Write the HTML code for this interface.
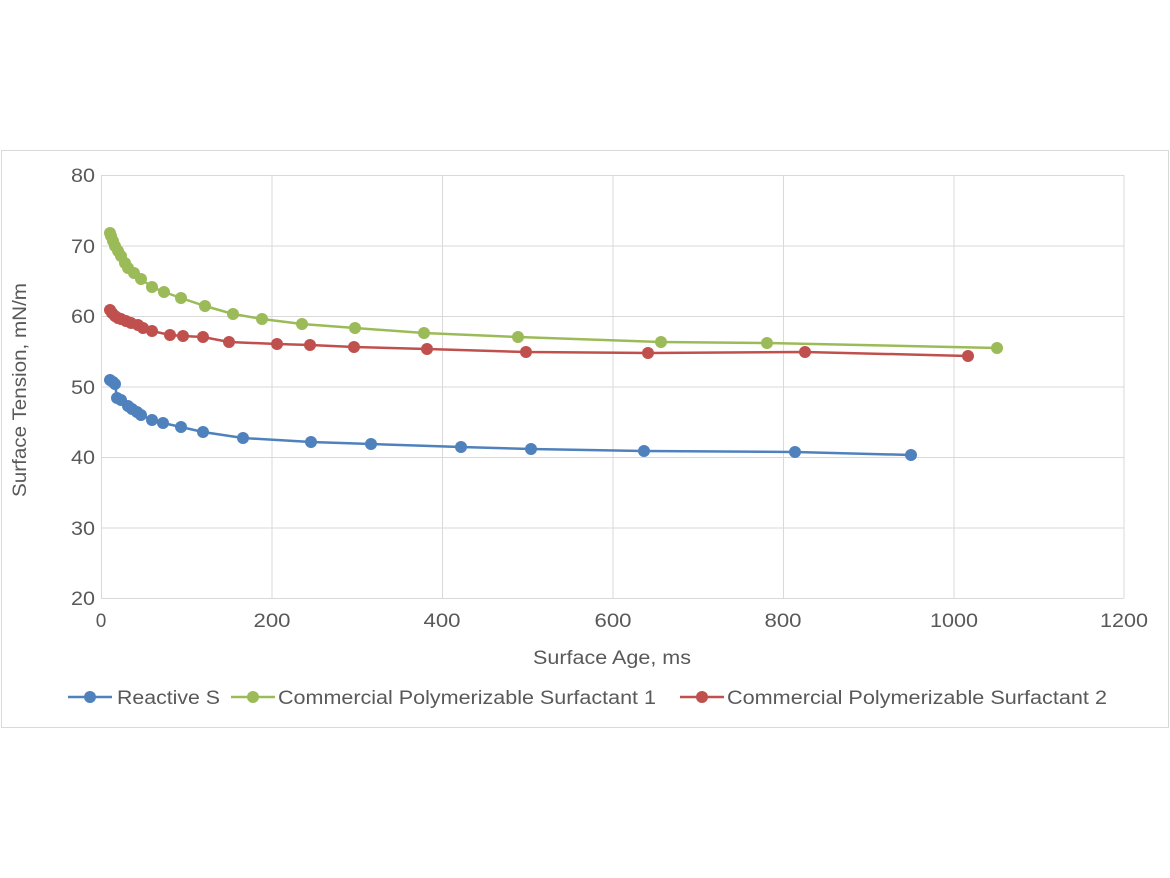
<!DOCTYPE html>
<html><head><meta charset="utf-8"><style>body{margin:0;background:#fff}svg{display:block}</style></head><body>
<svg width="1170" height="878" xmlns="http://www.w3.org/2000/svg" font-family="Liberation Sans, sans-serif" fill="#595959">
<rect x="1.5" y="150.5" width="1167" height="577" fill="#fff" stroke="#d9d9d9"/>
<g stroke="#d9d9d9" stroke-width="1">
<line x1="101" y1="175.5" x2="1124" y2="175.5"/><line x1="101" y1="246" x2="1124" y2="246"/><line x1="101" y1="316.5" x2="1124" y2="316.5"/><line x1="101" y1="387" x2="1124" y2="387"/><line x1="101" y1="457.5" x2="1124" y2="457.5"/><line x1="101" y1="528" x2="1124" y2="528"/><line x1="101" y1="598.5" x2="1124" y2="598.5"/>
<line x1="101.5" y1="175" x2="101.5" y2="598"/><line x1="272" y1="175" x2="272" y2="598"/><line x1="442.5" y1="175" x2="442.5" y2="598"/><line x1="613" y1="175" x2="613" y2="598"/><line x1="783.5" y1="175" x2="783.5" y2="598"/><line x1="954" y1="175" x2="954" y2="598"/><line x1="1124" y1="175" x2="1124" y2="598"/>
</g>
<g font-size="19" text-anchor="end">
<text x="95" y="182" textLength="24" lengthAdjust="spacingAndGlyphs">80</text><text x="95" y="253" textLength="24" lengthAdjust="spacingAndGlyphs">70</text><text x="95" y="323" textLength="24" lengthAdjust="spacingAndGlyphs">60</text><text x="95" y="394" textLength="24" lengthAdjust="spacingAndGlyphs">50</text><text x="95" y="464" textLength="24" lengthAdjust="spacingAndGlyphs">40</text><text x="95" y="535" textLength="24" lengthAdjust="spacingAndGlyphs">30</text><text x="95" y="605" textLength="24" lengthAdjust="spacingAndGlyphs">20</text></g>
<g font-size="19" text-anchor="middle">
<text x="101" y="627">0</text><text x="272" y="627" textLength="37" lengthAdjust="spacingAndGlyphs">200</text><text x="442" y="627" textLength="37" lengthAdjust="spacingAndGlyphs">400</text><text x="613" y="627" textLength="37" lengthAdjust="spacingAndGlyphs">600</text><text x="783" y="627" textLength="37" lengthAdjust="spacingAndGlyphs">800</text><text x="954" y="627" textLength="48" lengthAdjust="spacingAndGlyphs">1000</text><text x="1124" y="627" textLength="48" lengthAdjust="spacingAndGlyphs">1200</text>
<text x="612" y="664" textLength="158" lengthAdjust="spacingAndGlyphs">Surface Age, ms</text>
<text transform="translate(26,390) rotate(-90)" textLength="214" lengthAdjust="spacingAndGlyphs">Surface Tension, mN/m</text></g>
<polyline fill="none" stroke="#9bbb59" stroke-width="2.5" points="110,233 111,236 113,241 115,246 118,251 121,256 125,263 128,268 134,273 141,279 152,287 164,292 181,298 205,306 233,314 262,319 302,324 355,328 424,333 518,337 661,342 767,343 997,348"/>
<g fill="#9bbb59"><circle cx="110" cy="233" r="6"/><circle cx="111" cy="236" r="6"/><circle cx="113" cy="241" r="6"/><circle cx="115" cy="246" r="6"/><circle cx="118" cy="251" r="6"/><circle cx="121" cy="256" r="6"/><circle cx="125" cy="263" r="6"/><circle cx="128" cy="268" r="6"/><circle cx="134" cy="273" r="6"/><circle cx="141" cy="279" r="6"/><circle cx="152" cy="287" r="6"/><circle cx="164" cy="292" r="6"/><circle cx="181" cy="298" r="6"/><circle cx="205" cy="306" r="6"/><circle cx="233" cy="314" r="6"/><circle cx="262" cy="319" r="6"/><circle cx="302" cy="324" r="6"/><circle cx="355" cy="328" r="6"/><circle cx="424" cy="333" r="6"/><circle cx="518" cy="337" r="6"/><circle cx="661" cy="342" r="6"/><circle cx="767" cy="343" r="6"/><circle cx="997" cy="348" r="6"/></g>
<polyline fill="none" stroke="#c0504d" stroke-width="2.5" points="110,310 112,313 115,316 118,318 121,319 126,321 131,323 138,325 143,328 152,331 170,335 183,336 203,337 229,342 277,344 310,345 354,347 427,349 526,352 648,353 805,352 968,356"/>
<g fill="#c0504d"><circle cx="110" cy="310" r="6"/><circle cx="112" cy="313" r="6"/><circle cx="115" cy="316" r="6"/><circle cx="118" cy="318" r="6"/><circle cx="121" cy="319" r="6"/><circle cx="126" cy="321" r="6"/><circle cx="131" cy="323" r="6"/><circle cx="138" cy="325" r="6"/><circle cx="143" cy="328" r="6"/><circle cx="152" cy="331" r="6"/><circle cx="170" cy="335" r="6"/><circle cx="183" cy="336" r="6"/><circle cx="203" cy="337" r="6"/><circle cx="229" cy="342" r="6"/><circle cx="277" cy="344" r="6"/><circle cx="310" cy="345" r="6"/><circle cx="354" cy="347" r="6"/><circle cx="427" cy="349" r="6"/><circle cx="526" cy="352" r="6"/><circle cx="648" cy="353" r="6"/><circle cx="805" cy="352" r="6"/><circle cx="968" cy="356" r="6"/></g>
<polyline fill="none" stroke="#4f81bd" stroke-width="2.5" points="110,380 113,382 115,384 117,398 121,400 128,406 132,409 137,412 141,415 152,420 163,423 181,427 203,432 243,438 311,442 371,444 461,447 531,449 644,451 795,452 911,455"/>
<g fill="#4f81bd"><circle cx="110" cy="380" r="6"/><circle cx="113" cy="382" r="6"/><circle cx="115" cy="384" r="6"/><circle cx="117" cy="398" r="6"/><circle cx="121" cy="400" r="6"/><circle cx="128" cy="406" r="6"/><circle cx="132" cy="409" r="6"/><circle cx="137" cy="412" r="6"/><circle cx="141" cy="415" r="6"/><circle cx="152" cy="420" r="6"/><circle cx="163" cy="423" r="6"/><circle cx="181" cy="427" r="6"/><circle cx="203" cy="432" r="6"/><circle cx="243" cy="438" r="6"/><circle cx="311" cy="442" r="6"/><circle cx="371" cy="444" r="6"/><circle cx="461" cy="447" r="6"/><circle cx="531" cy="449" r="6"/><circle cx="644" cy="451" r="6"/><circle cx="795" cy="452" r="6"/><circle cx="911" cy="455" r="6"/></g>
<g font-size="19">
<line x1="68" y1="697" x2="112" y2="697" stroke="#4f81bd" stroke-width="2.5"/><circle cx="90" cy="697" r="6" fill="#4f81bd"/><text x="117" y="704" textLength="103" lengthAdjust="spacingAndGlyphs">Reactive S</text>
<line x1="231" y1="697" x2="275" y2="697" stroke="#9bbb59" stroke-width="2.5"/><circle cx="253" cy="697" r="6" fill="#9bbb59"/><text x="278" y="704" textLength="378" lengthAdjust="spacingAndGlyphs">Commercial Polymerizable Surfactant 1</text>
<line x1="680" y1="697" x2="724" y2="697" stroke="#c0504d" stroke-width="2.5"/><circle cx="702" cy="697" r="6" fill="#c0504d"/><text x="727" y="704" textLength="380" lengthAdjust="spacingAndGlyphs">Commercial Polymerizable Surfactant 2</text>
</g>
</svg></body></html>
